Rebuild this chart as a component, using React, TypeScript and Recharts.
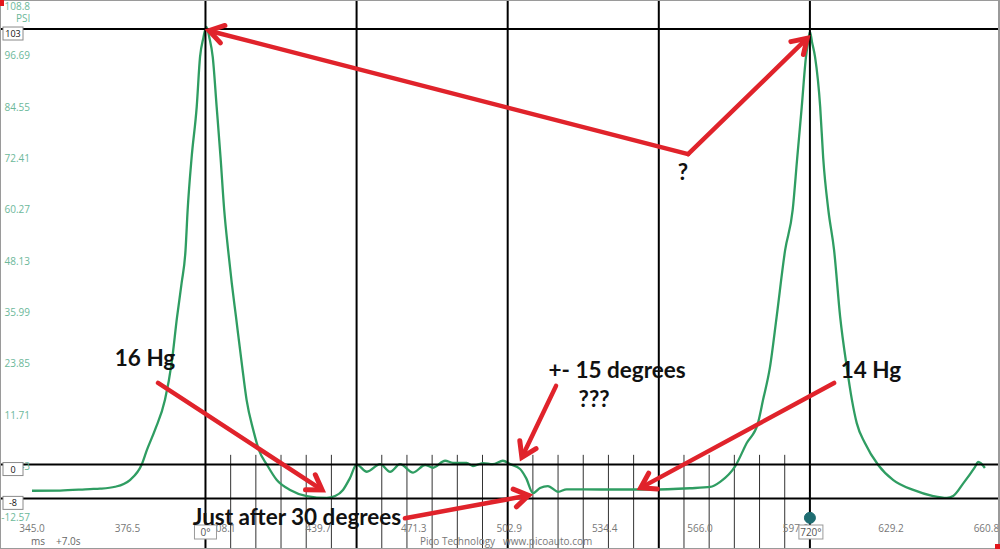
import React from 'react';
import { LineChart, Line, XAxis, YAxis, CartesianGrid, ReferenceLine, ReferenceDot } from 'recharts';

// ---- data (time in ms, pressure in PSI) ----
const TIME_MS = [
  345.0, 354.3, 364.2, 367.5, 372.5, 377.4, 381.3, 383.0, 385.7, 389.0,
  391.2, 393.0, 394.5, 395.8, 396.5, 397.8, 399.5, 400.6, 401.7, 402.7,
  403.7, 404.8, 406.1, 407.4, 408.6, 409.9, 411.1, 412.5, 414.4, 416.0,
  418.2, 420.1, 422.7, 426.0, 430.4, 435.9, 442.5, 445.3, 447.9, 450.2,
  452.4, 455.8, 460.2, 463.5, 466.8, 471.1, 475.1, 477.7, 481.7, 484.3,
  488.8, 490.9, 494.2, 497.5, 500.8, 503.2, 506.5, 508.5, 510.8, 513.1,
  515.7, 519.1, 521.9, 533.0, 549.5, 562.7, 569.4, 572.7, 577.6, 581.5,
  585.2, 586.9, 589.2, 591.4, 594.2, 596.7, 598.2, 599.7, 601.1, 601.8,
  602.4, 603.1, 604.1, 605.8, 606.8, 608.5, 610.4, 612.4, 614.6, 616.3,
  617.9, 620.6, 625.0, 630.0, 636.6, 643.2, 647.7, 649.8, 653.2, 657.0,
  658.1, 660.3,
];
const PSI = [
  -6.2, -6.15, -5.8, -5.7, -5.25, -3.67, 0, 3.4, 8.2, 15.3,
  24.0, 34.9, 42.9, 50.7, 60.2, 72.5, 84.6, 96.4, 100.9, 103.5,
  100.9, 96.4, 84.6, 72.5, 60.2, 50.7, 42.9, 34.9, 24.0, 15.3,
  8.2, 3.4, 0, -3.67, -6.0, -7.45, -7.9, -7.45, -6.0, -3.2,
  0, -1.7, 0.1, -1.7, 0.1, -1.9, -0.1, -0.75, 0.9, 0.4,
  0.4, -0.35, 0.35, 0.1, 0.9, 0.1, -1.05, -3.2, -6.75, -5.55,
  -5.1, -6.45, -5.85, -5.9, -5.9, -5.6, -5.3, -4.1, -0.5, 5.1,
  9.8, 15.3, 23.1, 35.0, 50.7, 60.2, 72.5, 84.6, 96.4, 99.9,
  102.4, 99.9, 96.4, 84.6, 72.5, 60.2, 50.7, 35.0, 23.1, 15.3,
  9.8, 5.1, -0.1, -3.67, -6.0, -7.45, -7.9, -7.45, -4.4, -0.6,
  0.6, -0.8,
];

const X_DOMAIN = [334.41, 665.3];
const Y_DOMAIN = [-19.97, 109.86];
const X_TICKS = [345.0, 376.58, 408.16, 439.74, 471.32, 502.9, 534.48, 566.06, 597.64, 629.22, 660.8];
const X_TICK_LABELS = ['345.0', '376.5', '408.1', '439.7', '471.3', '502.9', '534.4', '566.0', '597.6', '629.2', '660.8'];
const Y_TICKS = [108.8, 96.69, 84.55, 72.41, 60.27, 48.13, 35.99, 23.85, 11.71, -0.43, -12.57];
const Y_TICK_LABELS = ['108.8', '96.69', '84.55', '72.41', '60.27', '48.13', '35.99', '23.85', '11.71', '-0.43', '-12.57'];

// rotation ruler: 0 deg at 402.4 ms, 720 deg at 602.4 ms
const DEG0_MS = 402.4;
const DEG720_MS = 602.4;
const MAJOR_DEGREES = [0, 180, 360, 540, 720];
const MINOR_DEGREES = [30, 60, 90, 120, 150, 210, 240, 270, 300, 330, 390, 420, 450, 480, 510, 570, 600, 630, 660, 690];
const degToMs = (d: number) => DEG0_MS + (d * (DEG720_MS - DEG0_MS)) / 720;

const H_RULER_VALUES = [103, 0, -8];
const H_RULER_LABELS = ['103', '0', '-8'];

// annotations (data coordinates)
const ARROWS = [
  { from: [562.1, 73.4], to: [403.6, 102.6] },
  { from: [562.1, 73.4], to: [601.5, 100.8] },
  { from: [386.7, 19.3], to: [441.0, -6.0] },
  { from: [518.4, 18.6], to: [507.1, 1.7] },
  { from: [610.4, 19.3], to: [546.4, -5.5] },
  { from: [468.4, -12.7], to: [509.3, -7.3] },
];
const NOTES = [
  { t: 560.4, v: 69.2, text: '?' },
  { t: 382.4, v: 25.2, text: '16 Hg' },
  { t: 538.6, v: 22.4, text: '+- 15 degrees' },
  { t: 531.0, v: 15.7, text: '???' },
  { t: 622.6, v: 22.4, text: '14 Hg' },
  { t: 432.7, v: -12.4, text: 'Just after 30 degrees' },
];

const data = TIME_MS.map((t, i) => ({ t, psi: PSI[i] }));

const RED = '#e0232b';
const GREEN = '#2f9d62';
const TICK_FONT = '"Open Sans", "DejaVu Sans", sans-serif';
const NOTE_FONT = 'Lato, "Open Sans", sans-serif';

const makeYLabel = (text: string) => (p: any) => (
  <text x={p.cx + 30} y={Math.max(p.cy + 3.5, 9.5)} textAnchor="end" fill="#6cb89a" fontSize={10} fontFamily={TICK_FONT}>
    {text}
  </text>
);

const makeXLabel = (text: string) => (p: any) => (
  <text x={p.cx} y={p.cy - 17} textAnchor="middle" fill="#777" fontSize={10} fontFamily={TICK_FONT}>
    {text}
  </text>
);

const arrowShape = (p: any) => {
  const { x1, y1, x2, y2 } = p;
  const dx = x2 - x1;
  const dy = y2 - y1;
  const len = Math.sqrt(dx * dx + dy * dy) || 1;
  const ux = dx / len;
  const uy = dy / len;
  const nx = -uy;
  const ny = ux;
  const L = 14;
  const w = 9;
  const ax = x2 - L * ux + w * nx;
  const ay = y2 - L * uy + w * ny;
  const bx = x2 - L * ux - w * nx;
  const by = y2 - L * uy - w * ny;
  return (
    <g>
      <line x1={x1} y1={y1} x2={x2 - 2 * ux} y2={y2 - 2 * uy} stroke={RED} strokeWidth={4.5} strokeLinecap="round" />
      <polyline points={`${ax},${ay} ${x2},${y2} ${bx},${by}`} fill="none" stroke={RED} strokeWidth={5} strokeLinejoin="miter" strokeLinecap="round" />
    </g>
  );
};

const makeNote = (text: string) => (p: any) => (
  <text x={p.cx} y={p.cy} textAnchor="middle" dominantBaseline="central" fontFamily={NOTE_FONT} fontWeight={700} fontSize={22.5} fill="#111">
    {text}
  </text>
);

const makeHTag = (text: string) => (p: any) => (
  <g>
    <rect x={p.cx + 3} y={p.cy - 2} width={20} height={13} fill="#fff" stroke="#8a8a8a" strokeWidth={1} />
    <text x={p.cx + 13} y={p.cy + 8} textAnchor="middle" fontSize={9} fill="#111" fontFamily={TICK_FONT}>
      {text}
    </text>
  </g>
);

const makeVTag = (text: string) => (p: any) => (
  <g>
    <rect x={p.cx - 11} y={525} width={text.length > 2 ? 24 : 22} height={14} fill="#fff" stroke="#9a9a9a" strokeWidth={1} />
    <text x={p.cx + (text.length > 2 ? 1 : 0)} y={536} textAnchor="middle" fontSize={10} fill="#555" fontFamily={TICK_FONT}>
      {text}
    </text>
  </g>
);

export default function App() {
  return (
    <div style={{ position: 'absolute', left: 0, top: 0, width: 1000, height: 549, background: '#fff', overflow: 'hidden' }}>
      <LineChart width={1000} height={549} data={data} margin={{ top: 0, right: 0, bottom: 0, left: 0 }}>
        <CartesianGrid stroke="#d6d6d6" strokeDasharray="2 2" />
        <XAxis
          dataKey="t"
          type="number"
          domain={X_DOMAIN}
          ticks={X_TICKS}
          interval={0}
          allowDataOverflow
          mirror
          height={30}
          axisLine={false}
          tickLine={false}
          tick={false}
        />
        <YAxis
          type="number"
          domain={Y_DOMAIN}
          ticks={Y_TICKS}
          interval={0}
          allowDataOverflow
          mirror
          width={40}
          axisLine={false}
          tickLine={false}
          tick={false}
        />
        {MINOR_DEGREES.map((d) => (
          <ReferenceLine
            key={'m' + d}
            segment={[{ x: degToMs(d), y: 2.3 }, { x: degToMs(d), y: -19.9 }]}
            stroke="#333"
            strokeWidth={1}
            ifOverflow="visible"
          />
        ))}
        <Line type="monotone" dataKey="psi" stroke={GREEN} strokeWidth={2.3} dot={false} isAnimationActive={false} />
        {MAJOR_DEGREES.map((d) => (
          <ReferenceLine key={'M' + d} x={degToMs(d)} stroke="#000" strokeWidth={2} />
        ))}
        {H_RULER_VALUES.map((v) => (
          <ReferenceLine key={'h' + v} y={v} stroke="#000" strokeWidth={2} />
        ))}
        {Y_TICKS.map((v, i) => (
          <ReferenceDot key={'yl' + i} x={X_DOMAIN[0]} y={v} r={0.1} ifOverflow="visible" shape={makeYLabel(Y_TICK_LABELS[i])} />
        ))}
        {X_TICKS.map((t, i) => (
          <ReferenceDot key={'xl' + i} x={t} y={Y_DOMAIN[0]} r={0.1} ifOverflow="visible" shape={makeXLabel(X_TICK_LABELS[i])} />
        ))}
        {H_RULER_VALUES.map((v, i) => (
          <ReferenceDot key={'ht' + v} x={X_DOMAIN[0]} y={v} r={1} ifOverflow="visible" shape={makeHTag(H_RULER_LABELS[i])} />
        ))}
        <ReferenceDot x={DEG0_MS} y={-12.6} r={1} ifOverflow="visible" shape={makeVTag('0°')} />
        <ReferenceDot x={DEG720_MS} y={-12.6} r={1} ifOverflow="visible" shape={makeVTag('720°')} />
        <ReferenceDot x={DEG720_MS} y={-12.6} r={5.5} fill="#1f6d72" stroke="#1f6d72" ifOverflow="visible" />
        {ARROWS.map((a, i) => (
          <ReferenceLine
            key={'a' + i}
            segment={[{ x: a.from[0], y: a.from[1] }, { x: a.to[0], y: a.to[1] }]}
            ifOverflow="visible"
            shape={arrowShape}
          />
        ))}
        {NOTES.map((n, i) => (
          <ReferenceDot key={'n' + i} x={n.t} y={n.v} r={1} ifOverflow="visible" shape={makeNote(n.text)} />
        ))}
      </LineChart>
      <div style={{ position: 'absolute', left: 16, top: 11, fontSize: 10, color: '#6cb89a', fontFamily: TICK_FONT }}>PSI</div>
      <div style={{ position: 'absolute', left: 31, top: 534, fontSize: 10, color: '#666', fontFamily: TICK_FONT }}>ms</div>
      <div style={{ position: 'absolute', left: 56, top: 534, fontSize: 10, color: '#666', fontFamily: TICK_FONT }}>+7.0s</div>
      <div style={{ position: 'absolute', left: 420, top: 534, fontSize: 10, color: '#777', fontFamily: TICK_FONT, whiteSpace: 'nowrap' }}>
        Pico Technology&nbsp;&nbsp; www.picoauto.com
      </div>
      <div style={{ position: 'absolute', left: 0, top: 0, width: 1000, height: 549, boxSizing: 'border-box', border: '1px solid #9a9a9a', borderRight: '2px solid #9a9a9a', pointerEvents: 'none' }} />
      <div style={{ position: 'absolute', left: 0, top: 0, width: 4, height: 6, background: '#e3161c' }} />
      <div style={{ position: 'absolute', left: 995, top: 544, width: 5, height: 5, background: '#e3161c' }} />
    </div>
  );
}
